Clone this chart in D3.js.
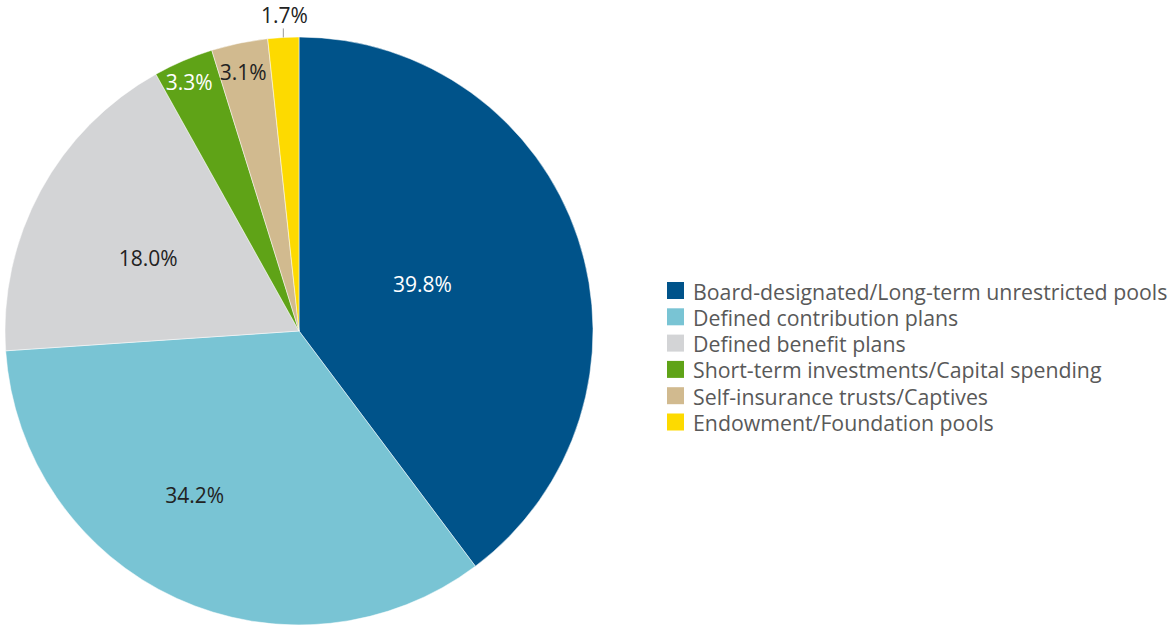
<!DOCTYPE html>
<html>
<head>
<meta charset="utf-8">
<script src="https://cdn.jsdelivr.net/npm/d3@7"></script>
<style>
  body { margin: 0; background: #fff; }
  svg { display: block; font-family: "Open Sans", sans-serif; }
</style>
</head>
<body>
<svg id="canvas" width="1169" height="626"></svg>
<script>
// categories and shares (%)
let categories = [
  'Board-designated/Long-term unrestricted pools',
  'Defined contribution plans',
  'Defined benefit plans',
  'Short-term investments/Capital spending',
  'Self-insurance trusts/Captives',
  'Endowment/Foundation pools'
];
let shares = [39.8, 34.2, 18.0, 3.3, 3.1, 1.7];
let colors = ['#00538a', '#79c4d4', '#d3d4d6', '#5fa317', '#d1ba8f', '#fdda00'];
let labelColors = ['#fff', '#222', '#222', '#fff', '#222', '#222'];

// label placement: fraction of radius and angle nudge (deg) from slice middle
let labelPlace = [[0.45, -2.6], [0.66, 7.9], [0.57, -2.7], [0.925, -0.6], [0.9, -0.5], [1.1, 0]];

let cx = 299, cy = 331, radius = 294;

let canvas = d3.select('#canvas');
let g = canvas.append('g').attr('transform', `translate(${cx},${cy})`);

let data = categories.map((c, i) => ({ name: c, value: shares[i], i: i }));
let pie = d3.pie().sort(null).value((d) => d.value);
let arcs = pie(data);
let arc = d3.arc().innerRadius(0).outerRadius(radius);

g.selectAll('path')
  .data(arcs)
  .enter()
  .append('path')
  .attr('d', arc)
  .attr('fill', (d) => colors[d.data.i])
  .attr('stroke', '#fff')
  .attr('stroke-width', 0.5);

let labelPos = (d) => {
  let p = labelPlace[d.data.i];
  let a = (d.startAngle + d.endAngle) / 2 + (p[1] * Math.PI) / 180;
  return [Math.sin(a) * radius * p[0], -Math.cos(a) * radius * p[0]];
};

let inside = arcs.filter((d) => d.data.value >= 2);
let outside = arcs.filter((d) => d.data.value < 2);

g.selectAll('text.in')
  .data(inside)
  .enter()
  .append('text')
  .attr('class', 'in')
  .attr('x', (d) => labelPos(d)[0])
  .attr('y', (d) => labelPos(d)[1])
  .attr('text-anchor', 'middle')
  .attr('dominant-baseline', 'central')
  .attr('font-size', 21)
  .attr('fill', (d) => labelColors[d.data.i])
  .text((d) => d.data.value.toFixed(1) + '%');

// small slice: label outside with a short leader line
outside.forEach((d) => {
  let a = (d.startAngle + d.endAngle) / 2;
  let x = Math.sin(a) * radius;
  let y = -Math.cos(a) * radius;
  g.append('line')
    .attr('x1', x).attr('y1', y)
    .attr('x2', x).attr('y2', y - 9)
    .attr('stroke', '#999')
    .attr('stroke-width', 1);
  g.append('text')
    .attr('x', x + 1)
    .attr('y', y - 22)
    .attr('text-anchor', 'middle')
    .attr('dominant-baseline', 'central')
    .attr('font-size', 21)
    .attr('fill', labelColors[d.data.i])
    .text(d.data.value.toFixed(1) + '%');
});

// legend
let legend = canvas.append('g').attr('transform', 'translate(667,282)');
let row = d3.scaleBand().domain(d3.range(categories.length)).range([0, 26.3 * categories.length]);

let items = legend.selectAll('g')
  .data(categories)
  .enter()
  .append('g')
  .attr('transform', (d, i) => `translate(0,${row(i)})`);

items.append('rect')
  .attr('width', 17)
  .attr('height', 17)
  .attr('fill', (d, i) => colors[i]);

items.append('text')
  .attr('x', 26)
  .attr('y', 9)
  .attr('dominant-baseline', 'central')
  .attr('font-size', 21.3)
  .attr('fill', '#595959')
  .text((d) => d);
</script>
</body>
</html>
